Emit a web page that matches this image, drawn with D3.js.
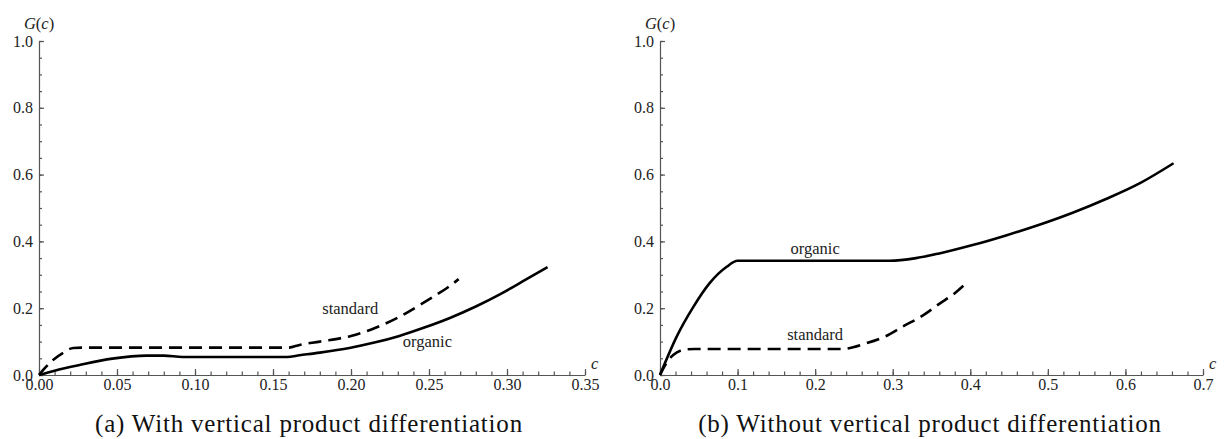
<!DOCTYPE html>
<html>
<head>
<meta charset="utf-8">
<script src="https://cdn.jsdelivr.net/npm/d3@7"></script>
<style>
  body { margin: 0; background: #fff; }
  .tick text { font-family: 'Liberation Serif', 'Times New Roman', serif; font-size: 16px; fill: #222; }
  .axis path, .axis line { stroke: #555; stroke-width: 1.2; }
  .curve { fill: none; stroke: #000; stroke-width: 2.6; }
  .lbl { font-family: 'Liberation Serif', serif; font-size: 16.5px; fill: #222; }
  .caption { font-family: 'Liberation Serif', serif; font-size: 25px; letter-spacing: 0.8px; fill: #111; }
</style>
</head>
<body>
<script>
// panel (a): with vertical product differentiation
const stdA = [[0,0],[0.004,0.022],[0.009,0.045],[0.016,0.068],[0.022,0.081],[0.03,0.082],[0.16,0.082],
  [0.167,0.09],[0.18,0.1],[0.2,0.117],[0.215,0.14],[0.231,0.174],[0.245,0.212],[0.253,0.235],[0.262,0.262],[0.269,0.287]]
const orgA = [[0,0],[0.01,0.013],[0.026,0.03],[0.047,0.049],[0.069,0.058],[0.08,0.058],[0.092,0.054],[0.1,0.054],
  [0.159,0.054],[0.167,0.059],[0.18,0.067],[0.199,0.081],[0.215,0.097],[0.231,0.117],[0.247,0.142],
  [0.263,0.17],[0.28,0.205],[0.296,0.243],[0.31,0.28],[0.326,0.323]]

// panel (b): without vertical product differentiation
const stdB = [[0,0],[0.008,0.035],[0.017,0.06],[0.034,0.077],[0.045,0.078],[0.234,0.078],[0.266,0.095],
  [0.29,0.115],[0.313,0.145],[0.34,0.18],[0.36,0.213],[0.38,0.245],[0.397,0.28]]
const orgB = [[0,0],[0.0215,0.115],[0.043,0.204],[0.064,0.275],[0.086,0.324],[0.1,0.342],[0.296,0.342],
  [0.33,0.35],[0.36,0.364],[0.403,0.389],[0.446,0.418],[0.489,0.45],[0.532,0.486],[0.575,0.527],
  [0.62,0.576],[0.662,0.634]]

const labelsA = [{text:'standard', c:0.1995, g:0.198}, {text:'organic', c:0.249, g:0.099}]
const labelsB = [{text:'organic', c:0.2, g:0.377}, {text:'standard', c:0.2, g:0.12}]

const ticksA = [0, 0.05, 0.10, 0.15, 0.20, 0.25, 0.30, 0.35]
const ticksB = [0, 0.1, 0.2, 0.3, 0.4, 0.5, 0.6, 0.7]
const yTicks = [0, 0.2, 0.4, 0.6, 0.8, 1.0]

const captionA = '(a) With vertical product differentiation'
const captionB = '(b) Without vertical product differentiation'

const width = 1225, height = 439
const svg = d3.select('body').append('svg')
    .attr('width', width)
    .attr('height', height)

svg.append('rect').attr('width', width).attr('height', height).attr('fill', '#fff')

const y = d3.scaleLinear().domain([0, 1]).range([375, 41])

function panel(opts) {
  const x = d3.scaleLinear().domain([0, opts.xmax]).range(opts.xr)
  const g = svg.append('g')

  // minor ticks
  const minorX = d3.range(0, Math.round(opts.xmax / opts.minor) + 1).map(i => i * opts.minor)
  g.append('g')
      .attr('class', 'axis')
      .attr('transform', 'translate(0,' + y(0) + ')')
      .call(d3.axisBottom(x).tickValues(minorX).tickSize(-3.5).tickFormat(''))
      .select('.domain').remove()
  const minorY = d3.range(0, 21).map(i => i * 0.05)
  g.append('g')
      .attr('class', 'axis')
      .attr('transform', 'translate(' + x(0) + ',0)')
      .call(d3.axisLeft(y).tickValues(minorY).tickSize(-3).tickFormat(''))
      .select('.domain').remove()

  // major axes
  g.append('g')
      .attr('class', 'axis')
      .attr('transform', 'translate(0,' + y(0) + ')')
      .call(d3.axisBottom(x).tickValues(opts.ticks).tickSize(-6).tickSizeOuter(0)
        .tickPadding(4).tickFormat(d3.format(opts.fmt)))
  g.append('g')
      .attr('class', 'axis')
      .attr('transform', 'translate(' + x(0) + ',0)')
      .call(d3.axisLeft(y).tickValues(yTicks).tickSize(-5).tickSizeOuter(0)
        .tickPadding(6).tickFormat(d3.format('.1f')))
  g.selectAll('.tick text').attr('fill', '#222')

  // axis titles
  const gc = g.append('text')
      .attr('x', x(0))
      .attr('y', 29)
      .attr('text-anchor', 'middle')
      .attr('class', 'lbl')
      .style('font-style', 'italic')
  gc.append('tspan').text('G')
  gc.append('tspan').style('font-style', 'normal').text('(')
  gc.append('tspan').text('c')
  gc.append('tspan').style('font-style', 'normal').text(')')
  g.append('text')
      .attr('x', x(opts.xmax) + 6)
      .attr('y', y(0) - 6)
      .attr('class', 'lbl')
      .style('font-style', 'italic')
      .text('c')

  const line = d3.line()
      .x(d => x(d[0]))
      .y(d => y(d[1]))
      .curve(d3.curveMonotoneX)

  g.append('path').datum(opts.org)
      .attr('class', 'curve')
      .attr('d', line)
  g.append('path').datum(opts.std)
      .attr('class', 'curve')
      .attr('stroke-dasharray', '13,7')
      .attr('d', line)

  g.selectAll('.anno').data(opts.labels).enter().append('text')
      .attr('class', 'lbl')
      .attr('x', d => x(d.c))
      .attr('y', d => y(d.g) + 5)
      .attr('text-anchor', 'middle')
      .text(d => d.text)

  g.append('text')
      .attr('class', 'caption')
      .attr('x', opts.capX)
      .attr('y', 432)
      .attr('text-anchor', 'middle')
      .text(opts.caption)
}

panel({xmax: 0.35, xr: [39, 585], ticks: ticksA, minor: 0.01, fmt: '.2f',
  std: stdA, org: orgA, labels: labelsA, caption: captionA, capX: 309})
panel({xmax: 0.7, xr: [660, 1203], ticks: ticksB, minor: 0.02, fmt: '.1f',
  std: stdB, org: orgB, labels: labelsB, caption: captionB, capX: 930})
</script>
</body>
</html>
